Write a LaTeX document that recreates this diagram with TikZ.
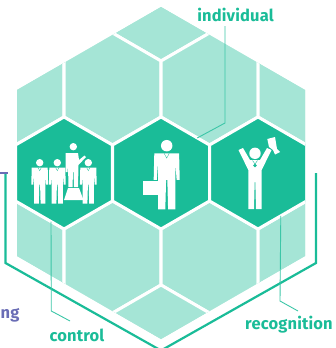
\documentclass[tikz,border=0pt]{standalone}
\usepackage{xcolor}
\usepackage{fontspec}
\setmainfont{Fira Sans}[LetterSpace=1]
\usetikzlibrary{shapes.geometric}

\tikzset{
  person/.pic={
    \fill [white] (0,0) circle (3.7);
    \fill [white] (-8,5) -- (8,5) -- (8.4,22) -- (6.4,22) -- (5.6,11) -- (5.6,41) -- (0.9,41) -- (0.4,22)
      -- (-0.4,22) -- (-0.9,41) -- (-5.6,41) -- (-5.6,11) -- (-6.4,22) -- (-8.4,22) -- cycle;
    \draw [tealdark,line width=0.3] (-1.6,5) -- (0,8) -- (1.6,5);
  }
}

\begin{document}
\begin{tikzpicture}[x=1pt,y=-1pt,
  cell/.style={regular polygon,regular polygon sides=6,regular polygon rotate=30,minimum size=112,inner sep=0,outer sep=0,fill=teallight,draw=white,line width=3},
  topic/.style={cell,fill=tealdark},
  tag/.style={font=\bfseries\fontsize{16.5}{16.5}\selectfont,text=tealdark,inner sep=0},
  leader/.style={draw=tealdark!85,line width=0.9},
  frame/.style={draw=tealdark,line width=2.2}]
\definecolor{tealdark}{HTML}{1ABC98}
\definecolor{teallight}{HTML}{A5E5D6}
\definecolor{violet}{HTML}{6A6DB5}
\useasboundingbox (0,0) rectangle (336,348);
\begin{scope}
  \clip (161,7) -- (305,90) -- (305,256) -- (161,339) -- (17,256) -- (17,90) -- cycle;
  \fill [teallight] (0,0) rectangle (336,348);
  \foreach \px/\py in {161/5,15.5/89,112.5/89,209.5/89,306.5/89,15.5/257,112.5/257,209.5/257,306.5/257,161/341}
  {  \node [cell] () at (\px,\py) {};}
  \foreach \nme/\px in {control/64,individual/161,recognition/258}
  {  \node [topic] (\nme) at (\px,173) {};}
\end{scope}
% frame
\draw [frame] (5.5,174) -- (5.5,263) -- (161,350.5) -- (316,263) -- (316,173);
\draw [violet,line width=2] (0,173) -- (8,173);
% labels
\node [tag] (individualtag) at (235.5,15) {individual};
\node [tag] (controltag) at (77,335) {control};
\node [tag] (recognitiontag) at (289,325) {recognition};
\node [tag,text=violet,anchor=west] (cuttag) at (0.5,315) {ng};
\coordinate (individualend) at (225,26);
\coordinate (controlend) at (70,321);
\coordinate (recognitionend) at (298,311);
\draw [leader] (individualend) -- (225,123) -- (individual.44);
\draw [leader] (control.255) -- (51.3,311) -- (controlend);
\draw [leader] (recognition.298) -- (280,301) -- (recognitionend);
% group
\pic at (39.7,162.7) {person};
\pic at (57.3,162.7) {person};
\pic at (88.3,162.7) {person};
\fill [white] (73.3,146.7) circle (3.7);
\fill [white] (65.5,153) -- (78,153) -- (79,160) -- (84.5,155.5) -- (86,157) -- (78.5,165) -- (78,187) -- (74,187)
  -- (73.5,172) -- (73,172) -- (72.5,187) -- (68.5,187) -- (68,165) -- (67.5,172) -- (65.5,172) -- cycle;
\fill [white] (68,188) -- (79,188) -- (83.5,200) -- (64,200) -- cycle;
% person with case
\pic [scale=1.55] at (166.7,145.7) {person};
\fill [white] (143.3,181) rectangle (158,195);
% person with cup
\fill [white] (255,153.3) circle (5.7);
\fill [white] (238.5,150) -- (243,148) -- (250,160) -- (260,160) -- (267,148) -- (271.5,150) -- (261.7,170)
  -- (261.7,209) -- (256,209) -- (255.3,182) -- (254.7,182) -- (254,209) -- (248.3,209) -- (248.3,170) -- cycle;
\fill [tealdark] (255,165.5) circle (1.8);
\draw [tealdark,line width=0.4] (252.5,160.5) -- (255,164) -- (257.5,160.5);
\fill [white] (267.3,139) -- (275,137) -- (277,149) -- (280,152) -- (275,154.5) -- (273,150) -- (269,147) -- cycle;
\end{tikzpicture}
\end{document}
